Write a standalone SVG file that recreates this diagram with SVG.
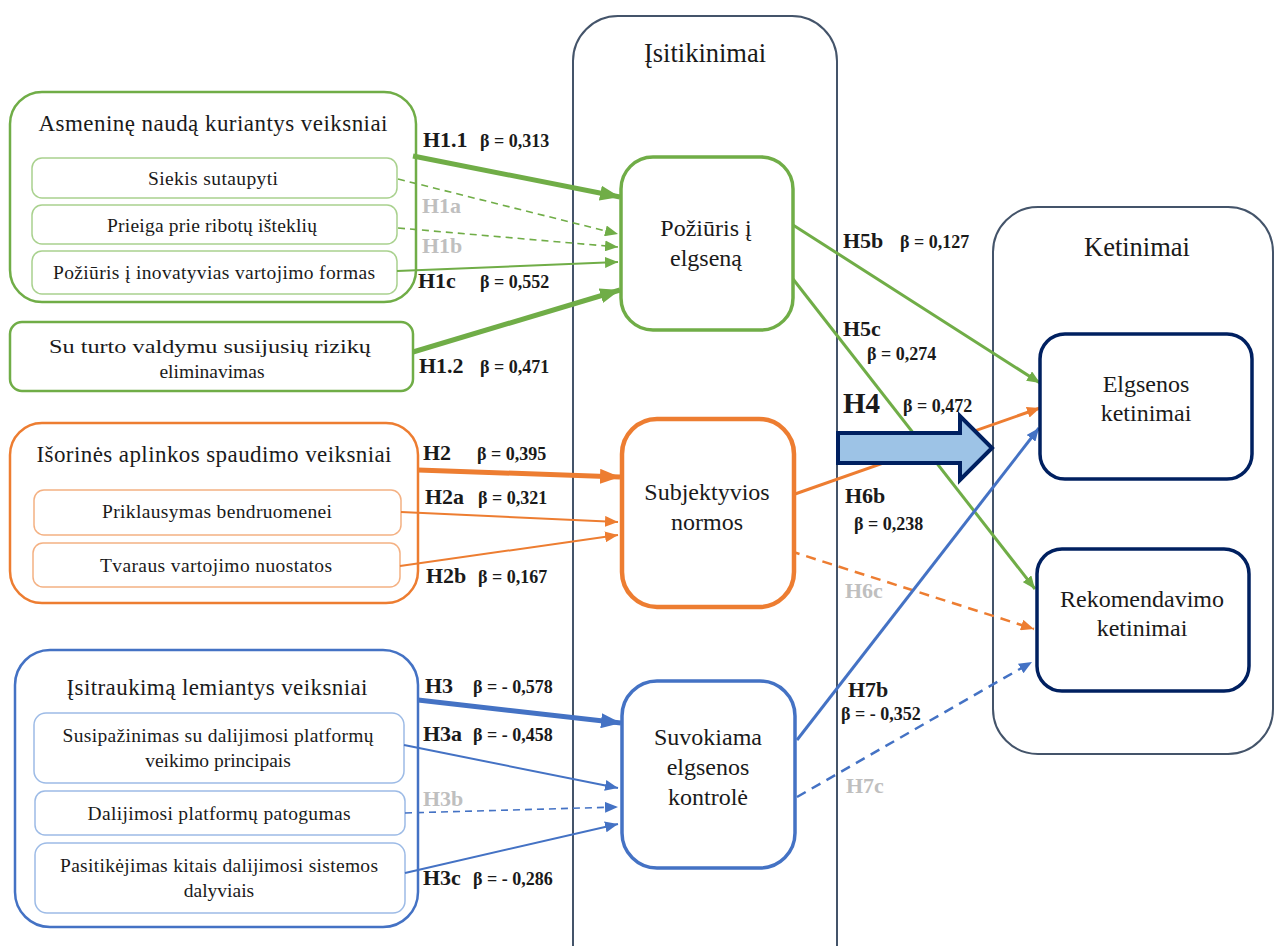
<svg xmlns="http://www.w3.org/2000/svg" width="1275" height="946" viewBox="0 0 1275 946" font-family="'Liberation Serif', 'DejaVu Serif', serif">
<style>
text{font-family:'Liberation Serif','Times New Roman','DejaVu Serif',serif;fill:#1a1a1a}
.ct{font-size:26.5px;text-anchor:middle}
.gt{font-size:23px;text-anchor:middle}
.nt{font-size:24px;text-anchor:middle}
.st{font-size:19.5px;text-anchor:middle}
.h{font-size:22px;font-weight:bold}
.b{font-size:18px;font-weight:bold}
.g{fill:#bfbfbf}
.cont{fill:none;stroke:#44546a;stroke-width:2}
.kn{fill:#fff;stroke:#002060;stroke-width:3.5}
.gr{fill:#fff;stroke:#70ad47}
.or{fill:#fff;stroke:#ed7d31}
.bl{fill:#fff;stroke:#4472c4}
.sg{fill:#fff;stroke:#a9d18e;stroke-width:1.5}
.so{fill:#fff;stroke:#f4b183;stroke-width:1.5}
.sb{fill:#fff;stroke:#9dbbe6;stroke-width:1.5}
.lg{stroke:#70ad47;fill:none}
.lo{stroke:#ed7d31;fill:none}
.lb{stroke:#4472c4;fill:none}
.thick{stroke-width:5}
.thin{stroke-width:2}
.mid{stroke-width:3}
.dash{stroke-width:1.6;stroke-dasharray:7 5}
.dash2{stroke-width:2.5;stroke-dasharray:10 7}
</style>
<defs>
<marker id="gs" markerUnits="userSpaceOnUse" markerWidth="13" markerHeight="11" refX="13" refY="5.5" orient="auto"><path d="M0,0 L13,5.5 L0,11 z" fill="#70ad47"/></marker>
<marker id="gl" markerUnits="userSpaceOnUse" markerWidth="20" markerHeight="15" refX="20" refY="7.5" orient="auto"><path d="M0,0 L20,7.5 L0,15 z" fill="#70ad47"/></marker>
<marker id="os" markerUnits="userSpaceOnUse" markerWidth="13" markerHeight="11" refX="13" refY="5.5" orient="auto"><path d="M0,0 L13,5.5 L0,11 z" fill="#ed7d31"/></marker>
<marker id="ol" markerUnits="userSpaceOnUse" markerWidth="20" markerHeight="15" refX="20" refY="7.5" orient="auto"><path d="M0,0 L20,7.5 L0,15 z" fill="#ed7d31"/></marker>
<marker id="bs" markerUnits="userSpaceOnUse" markerWidth="13" markerHeight="11" refX="13" refY="5.5" orient="auto"><path d="M0,0 L13,5.5 L0,11 z" fill="#4472c4"/></marker>
<marker id="bll" markerUnits="userSpaceOnUse" markerWidth="20" markerHeight="15" refX="20" refY="7.5" orient="auto"><path d="M0,0 L20,7.5 L0,15 z" fill="#4472c4"/></marker>
</defs>

<g id="isitikinimai">
<rect class="cont" x="573" y="16" width="264" height="1000" rx="45"/>
<text class="ct" x="705" y="62">Įsitikinimai</text>
</g>
<g id="ketinimai">
<rect class="cont" x="993" y="207" width="280" height="547" rx="45"/>
<text class="ct" x="1137" y="256">Ketinimai</text>
</g>

<g id="asmenine">
<rect class="gr" stroke-width="2.5" x="10" y="92" width="406" height="210" rx="32"/>
<text class="gt" x="213" y="131" textLength="349" lengthAdjust="spacing">Asmeninę naudą kuriantys veiksniai</text>
</g>
<g id="siekis">
<rect class="sg" x="32" y="158" width="365" height="40" rx="10"/>
<text class="st" x="213" y="185" textLength="130" lengthAdjust="spacing">Siekis sutaupyti</text>
</g>
<g id="prieiga">
<rect class="sg" x="32" y="205" width="365" height="39" rx="10"/>
<text class="st" x="212" y="232" textLength="210" lengthAdjust="spacing">Prieiga prie ribotų išteklių</text>
</g>
<g id="poziuris-inov">
<rect class="sg" x="32" y="251" width="365" height="43" rx="10"/>
<text class="st" x="214" y="279" textLength="322" lengthAdjust="spacing">Požiūris į inovatyvias vartojimo formas</text>
</g>
<g id="turto">
<rect class="gr" stroke-width="2.5" x="10" y="322" width="403" height="69" rx="12"/>
<text class="st" x="210" y="353" font-size="21" textLength="322" lengthAdjust="spacingAndGlyphs">Su turto valdymu susijusių rizikų</text>
<text class="st" x="212" y="378" font-size="21">eliminavimas</text>
</g>

<g id="isorines">
<rect class="or" stroke-width="2.5" x="10" y="423" width="408" height="180" rx="32"/>
<text class="gt" x="214" y="462" textLength="355" lengthAdjust="spacing">Išorinės aplinkos spaudimo veiksniai</text>
</g>
<g id="priklausymas">
<rect class="so" x="34" y="490" width="367" height="45" rx="10"/>
<text class="st" x="217" y="518" textLength="230" lengthAdjust="spacing">Priklausymas bendruomenei</text>
</g>
<g id="tvaraus">
<rect class="so" x="33" y="543" width="367" height="44" rx="10"/>
<text class="st" x="216" y="572" textLength="232" lengthAdjust="spacing">Tvaraus vartojimo nuostatos</text>
</g>

<g id="isitraukima">
<rect class="bl" stroke-width="2.5" x="15" y="650" width="403" height="277" rx="35"/>
<text class="gt" x="217" y="695" textLength="301" lengthAdjust="spacing">Įsitraukimą lemiantys veiksniai</text>
</g>
<g id="susipazinimas">
<rect class="sb" x="34" y="713" width="370" height="70" rx="12"/>
<text class="st" x="218" y="742" textLength="311" lengthAdjust="spacing">Susipažinimas su dalijimosi platformų</text>
<text class="st" x="218" y="767">veikimo principais</text>
</g>
<g id="patogumas">
<rect class="sb" x="35" y="791" width="370" height="44" rx="10"/>
<text class="st" x="219" y="820" textLength="263" lengthAdjust="spacing">Dalijimosi platformų patogumas</text>
</g>
<g id="pasitikejimas">
<rect class="sb" x="35" y="843" width="370" height="70" rx="12"/>
<text class="st" x="219" y="872" textLength="318" lengthAdjust="spacing">Pasitikėjimas kitais dalijimosi sistemos</text>
<text class="st" x="219" y="897">dalyviais</text>
</g>

<g id="connectors">
<line class="lg thick" x1="413" y1="156" x2="620" y2="197" marker-end="url(#gl)"/>
<line class="lg dash" x1="398" y1="179" x2="618" y2="234" marker-end="url(#gs)"/>
<line class="lg dash" x1="398" y1="228" x2="618" y2="247" marker-end="url(#gs)"/>
<line class="lg thin" x1="397" y1="271" x2="618" y2="262" marker-end="url(#gs)"/>
<line class="lg thick" x1="413" y1="352" x2="620" y2="290" marker-end="url(#gl)"/>
<line class="lo thick" x1="418" y1="470" x2="620" y2="477" marker-end="url(#ol)"/>
<line class="lo thin" x1="401" y1="512" x2="618" y2="522" marker-end="url(#os)"/>
<line class="lo thin" x1="400" y1="566" x2="618" y2="535" marker-end="url(#os)"/>
<line class="lb thick" x1="418" y1="700" x2="621" y2="723" marker-end="url(#bll)"/>
<line class="lb thin" x1="404" y1="745" x2="618" y2="788" marker-end="url(#bs)"/>
<line class="lb dash" x1="405" y1="813" x2="618" y2="807" marker-end="url(#bs)"/>
<line class="lb thin" x1="405" y1="873" x2="618" y2="824" marker-end="url(#bs)"/>
<line class="lg mid" x1="793" y1="225" x2="1040" y2="383" marker-end="url(#gs)"/>
<line class="lg mid" x1="793" y1="279" x2="1035" y2="589" marker-end="url(#gs)"/>
<line class="lo mid" x1="795" y1="494" x2="1040" y2="408" marker-end="url(#os)"/>
<line class="lo dash2" x1="790" y1="551" x2="1034" y2="629" marker-end="url(#os)"/>
<line class="lb mid" x1="797" y1="740" x2="1039" y2="428" marker-end="url(#bs)"/>
<line class="lb dash2" x1="797" y1="797" x2="1032" y2="662" marker-end="url(#bs)"/>
<polygon points="838,433 960,433 960,416 992,448 960,480 960,463 838,463" fill="#9dc3e6" stroke="#002060" stroke-width="4" stroke-linejoin="miter"/>
</g>

<g id="poziuris">
<rect class="gr" stroke-width="3.5" x="621" y="157" width="172" height="173" rx="32"/>
<text class="nt" x="706" y="236">Požiūris į</text>
<text class="nt" x="706" y="266">elgseną</text>
</g>
<g id="subjektyvios">
<rect class="or" stroke-width="4.5" x="622" y="419" width="172" height="188" rx="35"/>
<text class="nt" x="707" y="500">Subjektyvios</text>
<text class="nt" x="707" y="530">normos</text>
</g>
<g id="suvokiama">
<rect class="bl" stroke-width="3.5" x="622" y="681" width="173" height="187" rx="35"/>
<text class="nt" x="708" y="745">Suvokiama</text>
<text class="nt" x="708" y="775">elgsenos</text>
<text class="nt" x="708" y="805">kontrolė</text>
</g>
<g id="elgsenos">
<rect class="kn" x="1040" y="334" width="212" height="145" rx="25"/>
<text class="nt" x="1146" y="392">Elgsenos</text>
<text class="nt" x="1146" y="421">ketinimai</text>
</g>
<g id="rekomendavimo">
<rect class="kn" x="1037" y="549" width="212" height="142" rx="25"/>
<text class="nt" x="1142" y="607">Rekomendavimo</text>
<text class="nt" x="1142" y="636">ketinimai</text>
</g>

<g id="labels">
<text class="h" x="423" y="147">H1.1</text><text class="b" x="480" y="147">β = 0,313</text>
<text class="h g" x="422" y="213">H1a</text>
<text class="h g" x="422" y="253">H1b</text>
<text class="h" x="418" y="288">H1c</text><text class="b" x="480" y="288">β = 0,552</text>
<text class="h" x="419" y="373">H1.2</text><text class="b" x="480" y="373">β = 0,471</text>
<text class="h" x="423" y="460">H2</text><text class="b" x="477" y="460">β = 0,395</text>
<text class="h" x="425" y="504">H2a</text><text class="b" x="478" y="504">β = 0,321</text>
<text class="h" x="426" y="583">H2b</text><text class="b" x="478" y="583">β = 0,167</text>
<text class="h" x="425" y="693">H3</text><text class="b" x="473" y="693">β = - 0,578</text>
<text class="h" x="423" y="741">H3a</text><text class="b" x="473" y="741">β = - 0,458</text>
<text class="h g" x="423" y="806">H3b</text>
<text class="h" x="423" y="885">H3c</text><text class="b" x="473" y="885">β = - 0,286</text>
<text class="h" x="843" y="248">H5b</text><text class="b" x="900" y="248">β = 0,127</text>
<text class="h" x="843" y="336">H5c</text><text class="b" x="867" y="360">β = 0,274</text>
<text x="843" y="413" font-size="29" font-weight="bold">H4</text><text class="b" x="903" y="412">β = 0,472</text>
<text class="h" x="845" y="503">H6b</text><text class="b" x="854" y="530">β = 0,238</text>
<text class="h g" x="845" y="598">H6c</text>
<text class="h" x="848" y="697">H7b</text><text class="b" x="841" y="720">β = - 0,352</text>
<text class="h g" x="846" y="793">H7c</text>
</g>
</svg>
